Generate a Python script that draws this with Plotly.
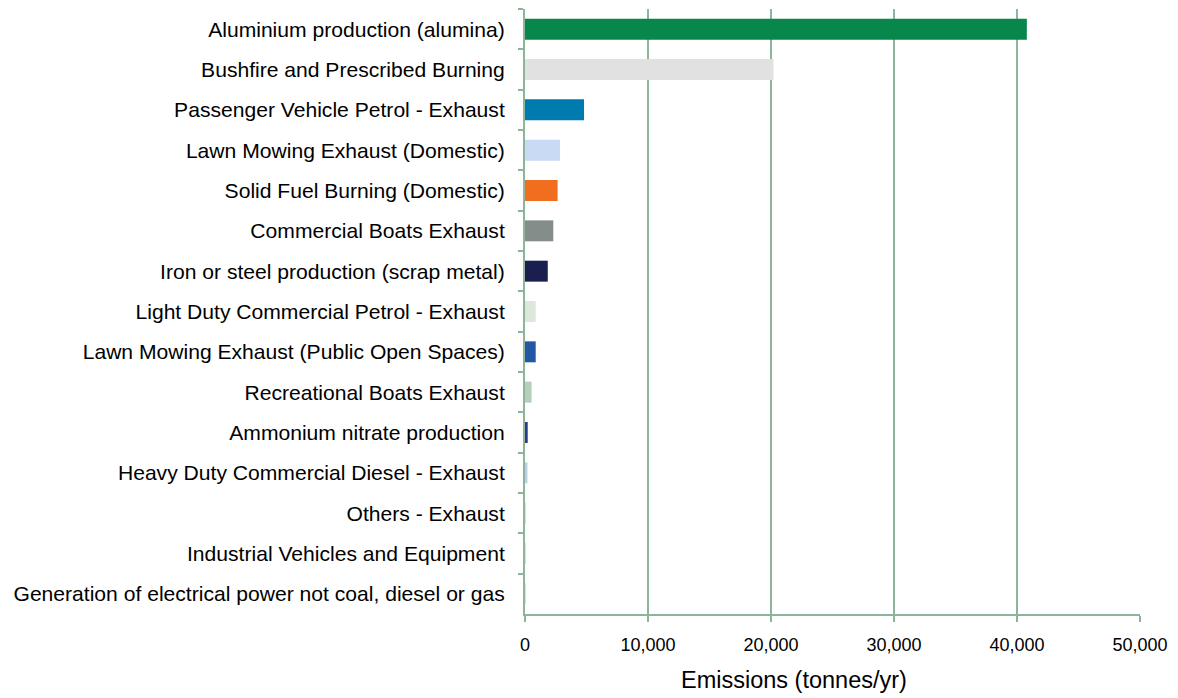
import plotly.graph_objects as go

categories = [
    "Aluminium production (alumina)",
    "Bushfire and Prescribed Burning",
    "Passenger Vehicle Petrol - Exhaust",
    "Lawn Mowing Exhaust (Domestic)",
    "Solid Fuel Burning (Domestic)",
    "Commercial Boats Exhaust",
    "Iron or steel production (scrap metal)",
    "Light Duty Commercial Petrol - Exhaust",
    "Lawn Mowing Exhaust (Public Open Spaces)",
    "Recreational Boats Exhaust",
    "Ammonium nitrate production",
    "Heavy Duty Commercial Diesel - Exhaust",
    "Others - Exhaust",
    "Industrial Vehicles and Equipment",
    "Generation of electrical power not coal, diesel or gas",
]
emissions = [40800, 20200, 4800, 2850, 2650, 2300, 1850, 870, 870, 540, 220, 200, 20, 10, 5]
colors = ["#07874C", "#E0E1E0", "#007BAF", "#C9DAF4", "#F06E1E", "#858D8A", "#1B1F4F",
          "#DDE8DD", "#2358A3", "#B5D0BA", "#2A3A8E", "#BBD0EA", "#DDDDDD", "#DDDDDD", "#DDDDDD"]
x_ticks = [0, 10000, 20000, 30000, 40000, 50000]
x_tick_labels = ["0", "10,000", "20,000", "30,000", "40,000", "50,000"]
x_title = "Emissions (tonnes/yr)"

grid = "#8DB59A"
fig = go.Figure(go.Bar(
    x=emissions, y=categories, orientation="h",
    marker=dict(color=colors, line=dict(width=0)),
))
fig.update_layout(
    width=1170, height=690,
    margin=dict(l=517, r=38, t=1, b=84),
    plot_bgcolor="white", paper_bgcolor="white",
    bargap=0.48,
    showlegend=False,
    font=dict(family="Liberation Sans, Arial, sans-serif", size=21.1, color="#000000"),
)
fig.add_annotation(
    text=x_title, xref="paper", yref="paper", x=0.4374, y=-0.109,
    xanchor="center", yanchor="middle", showarrow=False,
    font=dict(size=23.5),
)
fig.update_xaxes(
    range=[0, 50000], tickvals=x_ticks, ticktext=x_tick_labels,
    tickfont=dict(size=18),
    showgrid=True, gridcolor=grid, gridwidth=2,
    showline=True, linecolor=grid, linewidth=2,
    ticks="outside", ticklen=6, tickcolor=grid, tickwidth=2,
    ticklabelstandoff=7,
    zeroline=False,
    automargin=False,
)
fig.update_yaxes(
    categoryorder="array", categoryarray=categories, autorange="reversed",
    showline=True, linecolor=grid, linewidth=2,
    ticks="outside", ticklen=5, tickcolor=grid, tickwidth=2,
    tickson="boundaries", showgrid=False,
    ticklabelstandoff=14,
    automargin=False,
)
fig.write_html("out.html")
